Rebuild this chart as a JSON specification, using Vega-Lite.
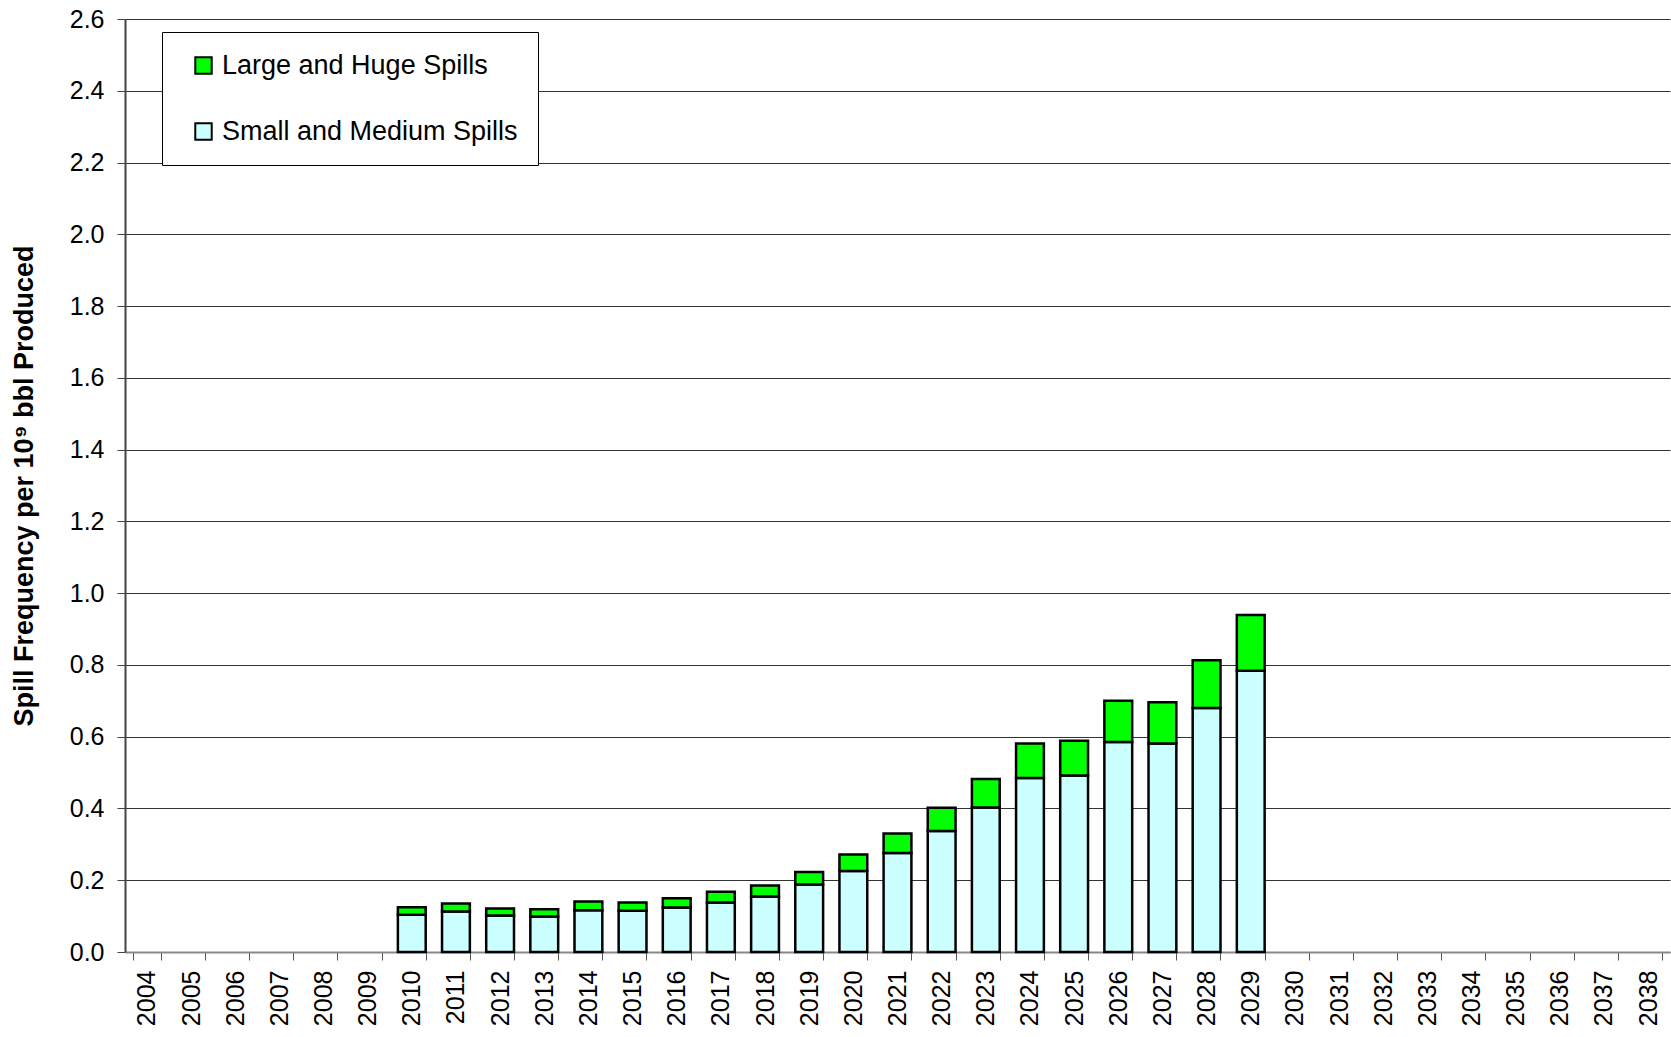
{
  "$schema": "https://vega.github.io/schema/vega-lite/v6.json",
  "autosize": "none",
  "width": 1545,
  "height": 933,
  "padding": {"left": 125, "top": 19, "right": 1, "bottom": 85},
  "background": "white",
  "config": {
    "font": "Liberation Sans",
    "view": {"stroke": null}
  },
  "data": {
    "values": [
      {"year": "2010", "series": "Small and Medium Spills", "value": 0.104},
      {"year": "2010", "series": "Large and Huge Spills", "value": 0.021},
      {"year": "2011", "series": "Small and Medium Spills", "value": 0.113},
      {"year": "2011", "series": "Large and Huge Spills", "value": 0.022},
      {"year": "2012", "series": "Small and Medium Spills", "value": 0.102},
      {"year": "2012", "series": "Large and Huge Spills", "value": 0.019},
      {"year": "2013", "series": "Small and Medium Spills", "value": 0.099},
      {"year": "2013", "series": "Large and Huge Spills", "value": 0.020},
      {"year": "2014", "series": "Small and Medium Spills", "value": 0.116},
      {"year": "2014", "series": "Large and Huge Spills", "value": 0.025},
      {"year": "2015", "series": "Small and Medium Spills", "value": 0.115},
      {"year": "2015", "series": "Large and Huge Spills", "value": 0.023},
      {"year": "2016", "series": "Small and Medium Spills", "value": 0.124},
      {"year": "2016", "series": "Large and Huge Spills", "value": 0.026},
      {"year": "2017", "series": "Small and Medium Spills", "value": 0.138},
      {"year": "2017", "series": "Large and Huge Spills", "value": 0.030},
      {"year": "2018", "series": "Small and Medium Spills", "value": 0.155},
      {"year": "2018", "series": "Large and Huge Spills", "value": 0.030},
      {"year": "2019", "series": "Small and Medium Spills", "value": 0.188},
      {"year": "2019", "series": "Large and Huge Spills", "value": 0.035},
      {"year": "2020", "series": "Small and Medium Spills", "value": 0.226},
      {"year": "2020", "series": "Large and Huge Spills", "value": 0.046},
      {"year": "2021", "series": "Small and Medium Spills", "value": 0.276},
      {"year": "2021", "series": "Large and Huge Spills", "value": 0.054},
      {"year": "2022", "series": "Small and Medium Spills", "value": 0.337},
      {"year": "2022", "series": "Large and Huge Spills", "value": 0.065},
      {"year": "2023", "series": "Small and Medium Spills", "value": 0.403},
      {"year": "2023", "series": "Large and Huge Spills", "value": 0.079},
      {"year": "2024", "series": "Small and Medium Spills", "value": 0.485},
      {"year": "2024", "series": "Large and Huge Spills", "value": 0.096},
      {"year": "2025", "series": "Small and Medium Spills", "value": 0.492},
      {"year": "2025", "series": "Large and Huge Spills", "value": 0.097},
      {"year": "2026", "series": "Small and Medium Spills", "value": 0.585},
      {"year": "2026", "series": "Large and Huge Spills", "value": 0.115},
      {"year": "2027", "series": "Small and Medium Spills", "value": 0.581},
      {"year": "2027", "series": "Large and Huge Spills", "value": 0.115},
      {"year": "2028", "series": "Small and Medium Spills", "value": 0.680},
      {"year": "2028", "series": "Large and Huge Spills", "value": 0.133},
      {"year": "2029", "series": "Small and Medium Spills", "value": 0.784},
      {"year": "2029", "series": "Large and Huge Spills", "value": 0.155}
    ]
  },
  "mark": {"type": "bar", "stroke": "black", "strokeWidth": 2.5},
  "encoding": {
    "x": {
      "field": "year",
      "type": "ordinal",
      "scale": {
        "domain": ["2004","2005","2006","2007","2008","2009","2010","2011","2012","2013","2014","2015","2016","2017","2018","2019","2020","2021","2022","2023","2024","2025","2026","2027","2028","2029","2030","2031","2032","2033","2034","2035","2036","2037","2038"],
        "paddingInner": 0.37,
        "paddingOuter": 0.18
      },
      "axis": {
        "title": null,
        "labelAngle": -90,
        "labelFontSize": 25,
        "labelColor": "black",
        "labelPadding": 10,
        "tickBand": "extent",
        "tickSize": 8,
        "tickColor": "#555",
        "domainColor": "#888",
        "domainWidth": 2,
        "grid": false
      }
    },
    "y": {
      "field": "value",
      "type": "quantitative",
      "stack": "zero",
      "scale": {"domain": [0, 2.6], "nice": false},
      "axis": {
        "title": "Spill Frequency per 10⁹ bbl Produced",
        "titleFontSize": 27,
        "titleFontWeight": "bold",
        "titleColor": "black",
        "titleX": -87,
        "values": [0, 0.2, 0.4, 0.6, 0.8, 1.0, 1.2, 1.4, 1.6, 1.8, 2.0, 2.2, 2.4, 2.6],
        "format": ".1f",
        "labelFontSize": 25,
        "labelColor": "black",
        "labelPadding": 13,
        "tickSize": 8,
        "tickColor": "#444",
        "domainColor": "#444",
        "domainWidth": 2,
        "grid": true,
        "gridColor": "#333",
        "gridWidth": 1
      }
    },
    "color": {
      "field": "series",
      "type": "nominal",
      "scale": {
        "domain": ["Large and Huge Spills", "Small and Medium Spills"],
        "range": ["#00ff00", "#ccffff"]
      },
      "legend": {
        "title": null,
        "orient": "none",
        "legendX": 37,
        "legendY": 13,
        "direction": "vertical",
        "symbolType": "square",
        "symbolSize": 270,
        "symbolStrokeColor": "black",
        "symbolStrokeWidth": 2,
        "symbolOpacity": 1,
        "symbolOffset": 8,
        "labelFontSize": 27,
        "labelLimit": 600,
        "labelColor": "black",
        "labelOffset": 5,
        "rowPadding": 38,
        "padding": 20,
        "strokeColor": "black",
        "fillColor": "white"
      }
    },
    "order": {"field": "series", "sort": "descending"}
  }
}
